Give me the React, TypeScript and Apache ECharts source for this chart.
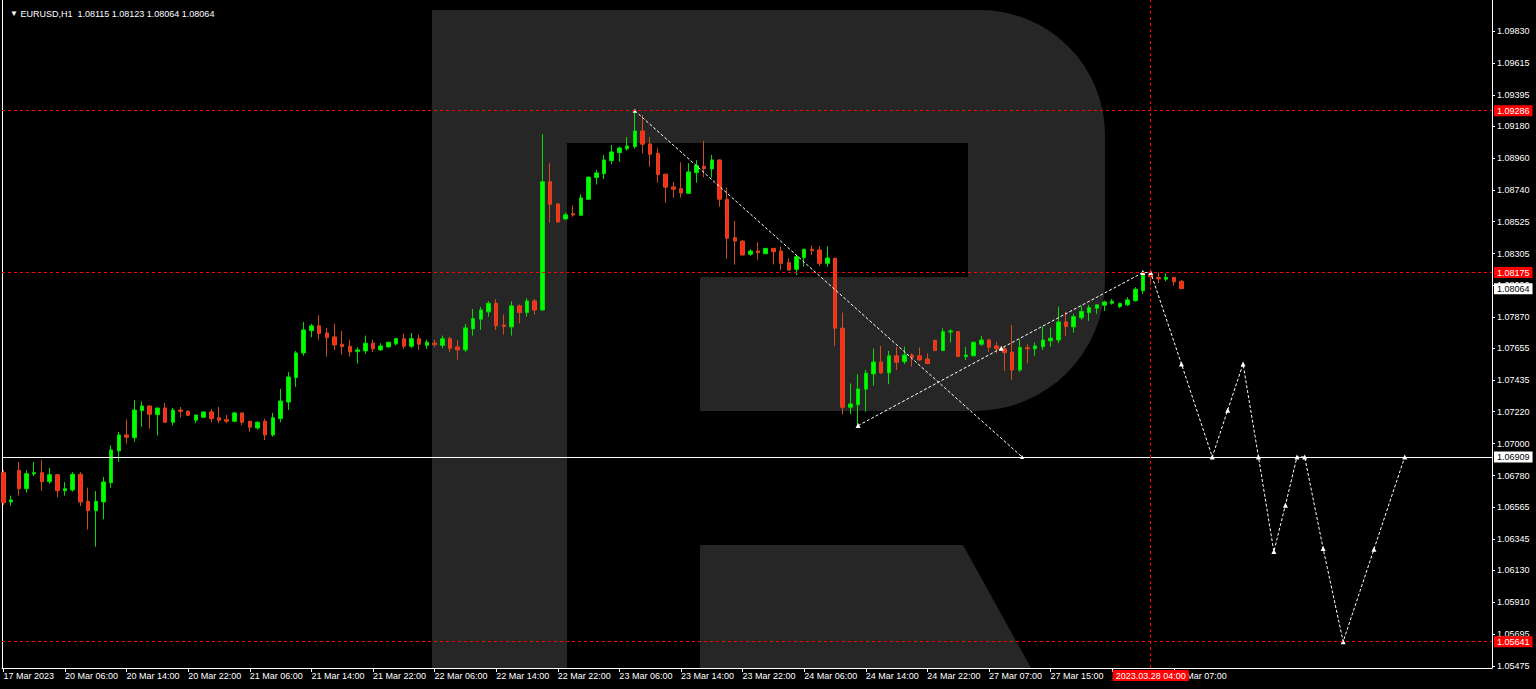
import React, { useEffect, useRef } from "react";
import * as echarts from "echarts";

// ---- candle data (EURUSD H1), bar index 0 = 17 Mar 2023 21:00 ----
const opens = [
  1.06801, 1.066, 1.06817, 1.06691, 1.06792, 1.06801, 1.06739, 1.06787, 1.06677, 1.06682,
  1.0679, 1.06604, 1.0654, 1.066, 1.06732, 1.0695, 1.0706, 1.07041, 1.07227, 1.07259,
  1.07199, 1.07245, 1.07147, 1.07231, 1.07222, 1.07161, 1.07181, 1.07218, 1.07178, 1.07165,
  1.07154, 1.07211, 1.07154, 1.07108, 1.07154, 1.0706, 1.07172, 1.07286, 1.07454, 1.07623,
  1.07776, 1.07809, 1.0776, 1.07733, 1.07683, 1.07669, 1.07632, 1.07637, 1.0769, 1.07644,
  1.07664, 1.07685, 1.07721, 1.07669, 1.07721, 1.07675, 1.0769, 1.07675, 1.07721, 1.07664,
  1.07644, 1.07788, 1.07855, 1.07905, 1.07964, 1.07815, 1.07802, 1.07946, 1.079, 1.0798,
  1.07918, 1.08799, 1.08646, 1.08543, 1.08579, 1.08568, 1.08678, 1.08827, 1.08854, 1.08943,
  1.08998, 1.09024, 1.09039, 1.09147, 1.09058, 1.08994, 1.0885, 1.08763, 1.08751, 1.08719,
  1.08861, 1.08905, 1.08886, 1.08948, 1.08678, 1.08414, 1.08391, 1.083, 1.08323, 1.08304,
  1.08341, 1.08323, 1.08243, 1.08197, 1.08277, 1.08335, 1.0833, 1.08238, 1.08273, 1.07793,
  1.0725, 1.07268, 1.07374, 1.07479, 1.07561, 1.07486, 1.07603, 1.07563, 1.07609, 1.07603,
  1.07582, 1.0771, 1.07639, 1.07767, 1.07769, 1.07598, 1.07603, 1.07683, 1.07712, 1.07671,
  1.07651, 1.07628, 1.07506, 1.07659, 1.07651, 1.07666, 1.07706, 1.07712, 1.07836, 1.07802,
  1.07865, 1.079, 1.0793, 1.07951, 1.07964, 1.07941, 1.07953, 1.07982, 1.0805, 1.08156,
  1.08142, 1.08129, 1.08142, 1.08115,
];
const closes = [
  1.06595, 1.06614, 1.06691, 1.06794, 1.06801, 1.06739, 1.06787, 1.06677, 1.06691, 1.0679,
  1.066, 1.0654, 1.06604, 1.06737, 1.06957, 1.0706, 1.07044, 1.07231, 1.07259, 1.07202,
  1.07245, 1.07147, 1.07231, 1.07222, 1.07195, 1.07197, 1.07218, 1.07172, 1.07161, 1.07154,
  1.07211, 1.07147, 1.07113, 1.07147, 1.0706, 1.07178, 1.07293, 1.07458, 1.07623, 1.07781,
  1.07809, 1.07756, 1.07728, 1.07678, 1.07666, 1.0763, 1.07644, 1.0769, 1.07651, 1.07671,
  1.07697, 1.07721, 1.07669, 1.07721, 1.07683, 1.07697, 1.0768, 1.07721, 1.07655, 1.07644,
  1.07795, 1.07859, 1.07918, 1.07964, 1.07809, 1.07804, 1.07946, 1.079, 1.0798, 1.07918,
  1.08799, 1.08643, 1.08522, 1.08572, 1.0857, 1.08687, 1.0883, 1.08859, 1.08948, 1.09003,
  1.0903, 1.09044, 1.09147, 1.09056, 1.08987, 1.08847, 1.08761, 1.08747, 1.08721, 1.08866,
  1.08909, 1.08888, 1.08948, 1.08678, 1.0841, 1.08391, 1.08295, 1.08323, 1.08311, 1.08341,
  1.08318, 1.08238, 1.08192, 1.08284, 1.08335, 1.08325, 1.08238, 1.08275, 1.07793, 1.0725,
  1.07273, 1.07376, 1.07484, 1.07561, 1.07486, 1.07603, 1.07559, 1.07609, 1.07593, 1.07575,
  1.0755, 1.07639, 1.07769, 1.07774, 1.07598, 1.07609, 1.07697, 1.07712, 1.07662, 1.07651,
  1.07625, 1.07506, 1.07662, 1.07651, 1.07671, 1.07712, 1.07724, 1.07836, 1.07804, 1.07872,
  1.07907, 1.07934, 1.07953, 1.07973, 1.07978, 1.07962, 1.07987, 1.0806, 1.08156, 1.08146,
  1.08131, 1.08142, 1.08112, 1.08064,
];
const highs = [
  1.06819, 1.06643, 1.06874, 1.06817, 1.06874, 1.06888, 1.06833, 1.0679, 1.06737, 1.06804,
  1.06804, 1.06698, 1.06675, 1.06771, 1.06989, 1.0708, 1.07165, 1.073, 1.07291, 1.07262,
  1.07247, 1.07279, 1.07245, 1.07252, 1.07231, 1.07199, 1.0722, 1.07238, 1.07252, 1.07197,
  1.07218, 1.07214, 1.07157, 1.07154, 1.07172, 1.07211, 1.07376, 1.07491, 1.07637, 1.07836,
  1.07822, 1.07882, 1.07795, 1.07822, 1.07774, 1.07714, 1.07662, 1.07742, 1.07714, 1.0769,
  1.07699, 1.07728, 1.07756, 1.0776, 1.07749, 1.07714, 1.07714, 1.07742, 1.07735, 1.0771,
  1.07822, 1.07925, 1.07939, 1.07978, 1.07992, 1.07886, 1.07978, 1.07957, 1.07999, 1.07992,
  1.09125, 1.08925, 1.0865, 1.08586, 1.08637, 1.08712, 1.08832, 1.08879, 1.08982, 1.09051,
  1.09039, 1.09106, 1.09286, 1.09257, 1.09104, 1.09028, 1.08853, 1.08797, 1.08932, 1.08925,
  1.08946, 1.09079, 1.08982, 1.08951, 1.08757, 1.08529, 1.08398, 1.08335, 1.08383, 1.08343,
  1.08343, 1.08355, 1.08273, 1.08296, 1.08339, 1.08362, 1.08355, 1.08355, 1.08276, 1.079,
  1.07413, 1.07477, 1.07506, 1.07653, 1.07671, 1.07637, 1.07664, 1.07666, 1.07621, 1.07661,
  1.07621, 1.07712, 1.07792, 1.07786, 1.07774, 1.07664, 1.07699, 1.0774, 1.07721, 1.07699,
  1.07665, 1.07815, 1.07717, 1.07683, 1.07694, 1.07804, 1.07797, 1.07941, 1.07905, 1.07891,
  1.07946, 1.07953, 1.07957, 1.07982, 1.07994, 1.07968, 1.08006, 1.08074, 1.08188, 1.08197,
  1.08177, 1.0817, 1.08144, 1.08123,
];
const lows = [
  1.06579, 1.06574, 1.06643, 1.06664, 1.06778, 1.06677, 1.06725, 1.06632, 1.06643, 1.06671,
  1.06572, 1.0641, 1.06293, 1.06481, 1.06698, 1.06876, 1.07, 1.07014, 1.07115, 1.07103,
  1.07055, 1.07142, 1.07126, 1.07181, 1.0719, 1.0714, 1.07179, 1.07147, 1.0714, 1.0714,
  1.07147, 1.07128, 1.07082, 1.07096, 1.07025, 1.07048, 1.07147, 1.07231, 1.0739, 1.07605,
  1.07731, 1.07714, 1.07598, 1.07644, 1.07611, 1.07598, 1.0755, 1.07618, 1.0763, 1.07637,
  1.07662, 1.07675, 1.07651, 1.07655, 1.07644, 1.07651, 1.07664, 1.07655, 1.0763, 1.07577,
  1.0763, 1.07742, 1.07781, 1.07872, 1.07781, 1.07749, 1.07742, 1.07827, 1.07872, 1.07886,
  1.07911, 1.08517, 1.08517, 1.08536, 1.08558, 1.08566, 1.08673, 1.08779, 1.08816, 1.08919,
  1.08936, 1.09012, 1.09025, 1.08994, 1.08902, 1.08792, 1.08654, 1.08689, 1.08689, 1.08717,
  1.08792, 1.0883, 1.08827, 1.08627, 1.0827, 1.08229, 1.08293, 1.08291, 1.08263, 1.08302,
  1.08231, 1.08192, 1.08187, 1.08158, 1.08215, 1.08295, 1.08221, 1.08215, 1.07671, 1.07202,
  1.07202, 1.07124, 1.0722, 1.07399, 1.07479, 1.07408, 1.07506, 1.07546, 1.07529, 1.07568,
  1.07548, 1.07637, 1.07637, 1.07694, 1.07596, 1.07575, 1.07601, 1.07671, 1.0763, 1.07621,
  1.075, 1.07438, 1.07493, 1.07552, 1.07601, 1.07644, 1.07666, 1.0769, 1.0774, 1.07762,
  1.0785, 1.07843, 1.07891, 1.07911, 1.07955, 1.0793, 1.07946, 1.07975, 1.08028, 1.0809,
  1.08101, 1.08115, 1.08085, 1.08064,
];

// ---- axes ----
const xTickIndex = [0, 8, 16, 24, 32, 40, 48, 56, 64, 72, 80, 88, 96, 104, 112, 120, 128, 136, 144, 152];
const xTickLabels = [
  "17 Mar 2023", "20 Mar 06:00", "20 Mar 14:00", "20 Mar 22:00", "21 Mar 06:00", "21 Mar 14:00",
  "21 Mar 22:00", "22 Mar 06:00", "22 Mar 14:00", "22 Mar 22:00", "23 Mar 06:00", "23 Mar 14:00",
  "23 Mar 22:00", "24 Mar 06:00", "24 Mar 14:00", "24 Mar 22:00", "27 Mar 07:00", "27 Mar 15:00",
  "27 Mar 23:00", "28 Mar 07:00",
];
const yTickValues = [
  1.0983, 1.09615, 1.09395, 1.0918, 1.0896, 1.0874, 1.08525, 1.08305, 1.0809, 1.0787, 1.07655,
  1.07435, 1.0722, 1.07, 1.0678, 1.06565, 1.06345, 1.0613, 1.0591, 1.05695, 1.05475,
];

// ---- levels & drawings ----
const redLevels = [1.09286, 1.08175, 1.05641];
const whiteLevel = 1.06909;
const bidPrice = 1.08064;
const crosshairIndex = 149;
const crosshairLabel = "2023.03.28 04:00";
const headerText = "EURUSD,H1\u00a0\u00a01.08115 1.08123 1.08064 1.08064";

const peakLine: [number, number][] = [
  [82, 1.09286],
  [132.3, 1.06909],
];
const forecastPath: [number, number][] = [
  [111, 1.07124],
  [129.6, 1.07655],
  [148, 1.08175],
  [149, 1.08175],
  [153, 1.07547],
  [157, 1.06909],
  [159, 1.0723],
  [161, 1.07547],
  [163, 1.06909],
  [165, 1.06259],
  [166.5, 1.06578],
  [168, 1.06909],
  [169, 1.06909],
  [171.4, 1.0628],
  [174, 1.05641],
  [178, 1.06276],
  [182, 1.06909],
];

const FONT = "Liberation Sans";
const GRAY = "#262626";

export default function App() {
  const ref = useRef<HTMLDivElement>(null);

  useEffect(() => {
    if (!ref.current) return;
    const chart = echarts.init(ref.current, undefined, { renderer: "svg" });

    const candleData = opens.map((o, i) => [i, o, closes[i], lows[i], highs[i]]);
    const redDash = { color: "#ff0000", type: [3, 3] as any, width: 1, opacity: 1 };
    const boxLabel = (bg: string, fg: string) => ({
      show: true,
      position: "end",
      distance: 2,
      formatter: (p: any) => Number(p.value).toFixed(5),
      backgroundColor: bg,
      color: fg,
      fontFamily: FONT,
      fontSize: 9,
      padding: [1, 3, 1, 3],
    });

    const option: any = {
      animation: false,
      backgroundColor: "#000000",
      textStyle: { fontFamily: FONT, fontSize: 9 },
      title: {
        left: 5,
        top: 4,
        text: "{t|▼} " + headerText,
        textStyle: {
          color: "#ffffff",
          fontSize: 9,
          fontWeight: "normal",
          fontFamily: FONT,
          rich: { t: { fontSize: 8, color: "#ffffff", fontFamily: FONT } },
        },
      },
      graphic: {
        elements: [
          { type: "rect", z: -2, silent: true, shape: { x: 432, y: 10, width: 673, height: 401, r: [0, 125, 130, 0] }, style: { fill: GRAY } },
          { type: "rect", z: -2, silent: true, shape: { x: 432, y: 10, width: 135, height: 658 }, style: { fill: GRAY } },
          { type: "polygon", z: -2, silent: true, shape: { points: [[700, 545], [963, 545], [1031, 668], [700, 668]] }, style: { fill: GRAY } },
          { type: "rect", z: -1, silent: true, shape: { x: 567, y: 143, width: 401, height: 134 }, style: { fill: "#000000" } },
          { type: "rect", z: -1, silent: true, shape: { x: 567, y: 277, width: 133, height: 134 }, style: { fill: "#000000" } },
        ],
      },
      grid: { left: 2, right: 44, top: 0, bottom: 21 },
      xAxis: {
        type: "value",
        min: -0.18,
        max: 193.33,
        splitLine: { show: false },
        axisLine: { show: true, onZero: false, lineStyle: { color: "#ffffff", width: 1 } },
        axisTick: { show: true, customValues: xTickIndex, length: 4, lineStyle: { color: "#ffffff" } },
        axisLabel: {
          customValues: xTickIndex,
          formatter: (v: number) => {
            const i = xTickIndex.indexOf(Math.round(v));
            return i >= 0 ? xTickLabels[i] : "";
          },
          color: "#ffffff",
          align: "left",
          margin: 3,
          fontSize: 9,
          fontFamily: FONT,
        },
      },
      yAxis: [
        {
          type: "value",
          position: "right",
          min: 1.0546,
          max: 1.10046,
          splitLine: { show: false },
          axisLine: { show: true, onZero: false, lineStyle: { color: "#ffffff", width: 1 } },
          axisTick: { show: true, customValues: yTickValues, length: 3, lineStyle: { color: "#ffffff" } },
          axisLabel: {
            customValues: yTickValues,
            formatter: (v: number) => v.toFixed(5),
            color: "#ffffff",
            margin: 5,
            fontSize: 9,
            fontFamily: FONT,
          },
        },
        {
          type: "value",
          position: "left",
          min: 1.0546,
          max: 1.10046,
          splitLine: { show: false },
          axisLine: { show: true, onZero: false, lineStyle: { color: "#ffffff", width: 1 } },
          axisTick: { show: false },
          axisLabel: { show: false },
        },
      ],
      series: [
        {
          type: "candlestick",
          name: "EURUSD,H1",
          data: candleData,
          encode: { x: 0, y: [1, 2, 3, 4] },
          barWidth: 4,
          itemStyle: {
            color: "#00ff00",
            color0: "#ff2a1a",
            borderColor: "#00e000",
            borderColor0: "#d24a1e",
            borderWidth: 1,
          },
          markLine: {
            silent: true,
            symbol: ["none", "none"],
            animation: false,
            precision: 5,
            data: [
              ...redLevels.map((v) => ({ yAxis: v, lineStyle: redDash, label: boxLabel("#ff0000", "#ffffff") })),
              { yAxis: whiteLevel, lineStyle: { color: "#ffffff", type: "solid", width: 1 }, label: boxLabel("#ffffff", "#000000") },
              { yAxis: bidPrice, lineStyle: { color: "rgba(0,0,0,0)", width: 0 }, label: boxLabel("#ffffff", "#000000") },
              {
                xAxis: crosshairIndex,
                lineStyle: redDash,
                label: {
                  show: true,
                  position: "start",
                  distance: 2,
                  formatter: crosshairLabel,
                  backgroundColor: "#ff0000",
                  color: "#ffffff",
                  fontFamily: FONT,
                  fontSize: 9,
                  padding: [1, 3, 1, 3],
                },
              },
            ],
          },
        },
        {
          type: "line",
          name: "trend",
          data: peakLine,
          symbol: "triangle",
          symbolSize: 4,
          showSymbol: true,
          itemStyle: { color: "#ffffff" },
          lineStyle: { color: "#ffffff", width: 1, type: [3, 2] },
          z: 4,
        },
        {
          type: "line",
          name: "forecast",
          data: forecastPath,
          symbol: "triangle",
          symbolSize: 5,
          showSymbol: true,
          itemStyle: { color: "#ffffff" },
          lineStyle: { color: "#ffffff", width: 1, type: [3, 2] },
          z: 4,
        },
      ],
    };

    chart.setOption(option);
    return () => chart.dispose();
  }, []);

  return (
    <div
      ref={ref}
      style={{ position: "fixed", left: 0, top: 0, width: 1536, height: 689, background: "#000000" }}
    />
  );
}
